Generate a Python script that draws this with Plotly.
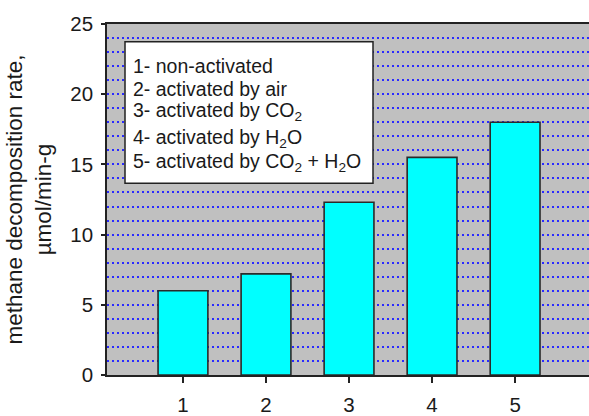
import plotly.graph_objects as go

categories = [1, 2, 3, 4, 5]
rates = [6.0, 7.2, 12.3, 15.5, 18.0]
y_ticks = [0, 5, 10, 15, 20, 25]
legend_lines = [
    "1- non-activated",
    "2- activated by air",
    "3- activated by CO<sub>2</sub>",
    "4- activated by H<sub>2</sub>O",
    "5- activated by CO<sub>2</sub> + H<sub>2</sub>O",
]
y_title = "methane decomposition rate,<br>µmol/min-g"

FONT = "Liberation Sans, Arial, sans-serif"
TXT = "#1a1a1a"
GRID = "#2a2aff"

fig = go.Figure()
fig.add_trace(go.Bar(
    x=categories, y=rates, width=0.6,
    marker=dict(color="#00FFFF", line=dict(color="#2a2a2a", width=1.6)),
    showlegend=False,
))

fig.update_layout(
    width=589, height=416,
    margin=dict(l=107, r=0, t=24, b=35),
    paper_bgcolor="white",
    plot_bgcolor="#C0C0C0",
    font=dict(family=FONT, size=20, color=TXT),
    xaxis=dict(
        range=[0.085, 5.89], tickvals=categories, ticktext=[str(c) for c in categories],
        showgrid=False, zeroline=False,
        showline=True, linecolor="#222222", linewidth=1.5, mirror=True,
        ticks="outside", ticklen=6, tickcolor="#222222", tickwidth=1.5,
        ticklabelstandoff=5,
        tickfont=dict(size=20.5, color=TXT),
    ),
    yaxis=dict(
        range=[0, 25], tickvals=y_ticks,
        showgrid=True, gridcolor=GRID, gridwidth=1.5, griddash="2px,3px",
        minor=dict(dtick=1, showgrid=True, gridcolor=GRID, gridwidth=1.5, griddash="2px,3px"),
        zeroline=False,
        showline=True, linecolor="#222222", linewidth=1.5,
        ticks="outside", ticklen=4, tickcolor="#222222", tickwidth=1.5,
        ticklabelstandoff=4,
        tickfont=dict(size=20.5, color=TXT),
        title=dict(text=y_title, font=dict(size=22.5, color=TXT), standoff=12),
    ),
)

# legend box
x0p = (125 - 107) / 482
x1p = (373 - 107) / 482
y0p = (381 - 186) / 357
y1p = (381 - 42) / 357
fig.add_shape(type="rect", xref="paper", yref="paper", x0=x0p, x1=x1p, y0=y0p, y1=y1p,
              fillcolor="white", line=dict(color="#222222", width=1.5), layer="above")

line_px = [67, 90, 113, 140, 165]
for txt, py in zip(legend_lines, line_px):
    fig.add_annotation(xref="paper", yref="paper", x=(131 - 107) / 482, y=(381 - py) / 357,
                       text=txt, showarrow=False, xanchor="left", yanchor="middle",
                       font=dict(size=19.5, color=TXT))

fig.write_html("out.html")
